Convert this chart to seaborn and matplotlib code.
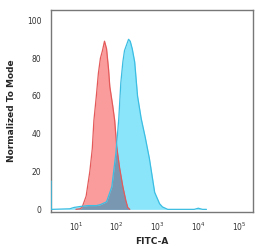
import numpy as np
import pandas as pd
import matplotlib
matplotlib.use("Agg")
import matplotlib.pyplot as plt
import seaborn as sns

# Histogram outlines (x in log10 FITC-A units, y = % of mode)
red_logx = [1.00, 1.10, 1.15, 1.25, 1.34, 1.40, 1.44, 1.50, 1.55, 1.60, 1.65, 1.70,
            1.75, 1.80, 1.83, 1.90, 1.95, 2.00, 2.07, 2.15, 2.22, 2.27, 2.32]
red_y = [0, 0.3, 1, 7, 20, 32, 47, 60, 72, 80, 84, 89,
         85, 74, 65, 55, 47, 33, 22, 12, 5, 1, 0]

blue_logx = [0.39, 0.395, 0.42, 0.85, 0.95, 1.10, 1.30, 1.50, 1.60, 1.75, 1.88, 1.98,
             2.05, 2.10, 2.15, 2.19, 2.24, 2.29, 2.33, 2.38, 2.44, 2.51, 2.60, 2.70,
             2.80, 2.93, 3.05, 3.12, 3.25, 3.9, 4.0, 4.1, 4.2]
blue_y = [15, 0, 0, 0.3, 1, 1.5, 2, 2, 2.5, 4, 12, 30,
          48, 67, 78, 84, 87, 90, 89, 85, 78, 60, 48, 38,
          27, 9, 3, 1.3, 0, 0, 0.6, 0, 0]

tick_exponents = [1, 2, 3, 4, 5]
y_ticks = [0, 20, 40, 60, 80, 100]

red = pd.DataFrame({"x": np.power(10.0, red_logx), "y": red_y})
blue = pd.DataFrame({"x": np.power(10.0, blue_logx), "y": blue_y})

sns.set_style("white")
plt.rcParams["font.family"] = ["DejaVu Sans"]

fig = plt.figure(figsize=(2.66, 2.5), dpi=100)
ax = fig.add_axes([0.192, 0.152, 0.759, 0.808])
ax.set_xscale("log")

red_fill, red_edge = "#fb9c9c", "#e45a5a"
blue_fill, blue_edge = "#8ae5fa", "#3cbde2"
overlap_fill = "#7a97b2"

ax.fill_between(red["x"], red["y"], color=red_fill, lw=0, zorder=1)
ax.fill_between(blue["x"], blue["y"], color=blue_fill, lw=0, zorder=2)
# overlap region of the two histograms
grid = np.linspace(min(red_logx), max(red_logx), 400)
ov = np.minimum(np.interp(grid, red_logx, red_y), np.interp(grid, blue_logx, blue_y))
ax.fill_between(10 ** grid, ov, color=overlap_fill, lw=0, zorder=3)

sns.lineplot(data=red, x="x", y="y", ax=ax, color=red_edge, lw=0.9, sort=False,
             estimator=None, zorder=4)
sns.lineplot(data=blue, x="x", y="y", ax=ax, color=blue_edge, lw=0.9, sort=False,
             estimator=None, zorder=5)

ax.set_xlim(10 ** 0.39, 10 ** 5.34)
ax.set_ylim(-1.4, 105.5)
ax.set_xticks([10.0 ** e for e in tick_exponents])
ax.set_xticklabels([f"$10^{{{e}}}$" for e in tick_exponents])
ax.minorticks_off()
ax.set_yticks(y_ticks)
ax.tick_params(axis="both", length=0, labelsize=5.5, labelcolor="#333333")
ax.tick_params(axis="y", pad=7)
ax.tick_params(axis="x", pad=6)
ax.set_xlabel("FITC-A", fontsize=6.5, fontweight="bold", labelpad=3)
ax.set_ylabel("Normalized To Mode", fontsize=6.5, fontweight="bold", labelpad=8)
for s in ax.spines.values():
    s.set_visible(True)
    s.set_color("#777777")
    s.set_linewidth(1.0)

fig.savefig("out.png", dpi=100)
